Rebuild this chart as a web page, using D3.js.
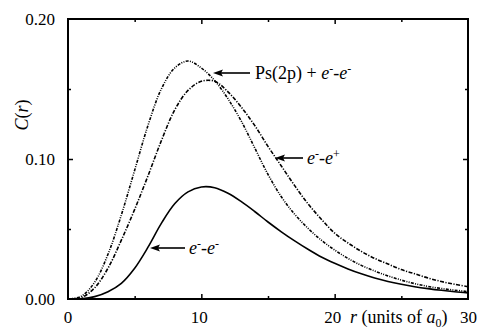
<!DOCTYPE html>
<html lang="en">
<head>
<meta charset="UTF-8">
<title>C(r)</title>
<script src="https://cdn.jsdelivr.net/npm/d3@7"></script>
<style>
  body { margin: 0; background: #fff; }
</style>
</head>
<body>
<script>
// radius grid (units of a0)
const rValues = [0, 1, 2, 3, 4, 5, 6, 7, 8, 9, 10, 11, 12, 13, 14, 15, 16, 17, 18, 19, 20, 21, 22, 23, 24, 25, 26, 27, 28, 29, 30]
// e- - e- (solid)
const eeValues = [0, 0.0002, 0.0017, 0.0052, 0.0112, 0.022, 0.037, 0.054, 0.068, 0.0765, 0.080, 0.0795, 0.0755, 0.0695, 0.0625, 0.055, 0.048, 0.0415, 0.0355, 0.030, 0.0255, 0.0215, 0.018, 0.015, 0.0125, 0.0105, 0.0088, 0.0074, 0.0062, 0.0052, 0.0044]
// e- - e+ (dash-dot)
const epValues = [0, 0.001, 0.008, 0.022, 0.042, 0.064, 0.088, 0.113, 0.135, 0.149, 0.1555, 0.1555, 0.148, 0.137, 0.124, 0.109, 0.095, 0.081, 0.068, 0.057, 0.047, 0.040, 0.034, 0.029, 0.025, 0.021, 0.018, 0.015, 0.0125, 0.0105, 0.0088]
// Ps(2p) + e- - e- (dash-dot-dot)
const psValues = [0, 0.002, 0.012, 0.032, 0.060, 0.092, 0.124, 0.150, 0.165, 0.170, 0.165, 0.156, 0.143, 0.127, 0.108, 0.089, 0.073, 0.0605, 0.0505, 0.042, 0.035, 0.029, 0.024, 0.020, 0.0165, 0.0135, 0.011, 0.009, 0.0075, 0.0063, 0.0053]

const xTickLabels = [0, 10, 20]
const yTickLabels = [0, 0.10, 0.20]

const w = 480, h = 336
const pLeft = 68, pRight = 468, pTop = 19, pBottom = 299

const svg = d3.select("body").append("svg").attr("width", w).attr("height", h)
    .style("font-family", '"Liberation Serif", serif')

const x = d3.scaleLinear().domain([0, 30]).range([pLeft, pRight])
const y = d3.scaleLinear().domain([0, 0.20]).range([pBottom, pTop])

// ticks pointing inward on all four sides
const drawTicks = (axisFn, scale, vals, size, transform) => {
    svg.append("g").attr("transform", transform)
        .call(axisFn(scale).tickValues(vals).tickSize(size).tickFormat(""))
        .call(g => g.select(".domain").remove())
        .call(g => g.selectAll("line").attr("stroke", "#000").attr("stroke-width", 1.5))
}
drawTicks(d3.axisBottom, x, [10, 20], -5, `translate(0,${pBottom})`)
drawTicks(d3.axisBottom, x, [5, 15, 25], -3, `translate(0,${pBottom})`)
drawTicks(d3.axisTop, x, [10, 20], -5, `translate(0,${pTop})`)
drawTicks(d3.axisTop, x, [5, 15, 25], -3, `translate(0,${pTop})`)
drawTicks(d3.axisLeft, y, [0.10], -5, `translate(${pLeft},0)`)
drawTicks(d3.axisLeft, y, [0.05, 0.15], -3, `translate(${pLeft},0)`)
drawTicks(d3.axisRight, y, [0.10], -5, `translate(${pRight},0)`)
drawTicks(d3.axisRight, y, [0.05, 0.15], -3, `translate(${pRight},0)`)

// frame
svg.append("rect")
    .attr("x", pLeft).attr("y", pTop)
    .attr("width", pRight - pLeft).attr("height", pBottom - pTop)
    .attr("fill", "none").attr("stroke", "#000").attr("stroke-width", 2)

// tick labels
svg.selectAll(".ylab").data(yTickLabels).enter().append("text")
    .attr("x", pLeft - 13).attr("y", d => y(d) + 6)
    .attr("text-anchor", "end").attr("font-size", 17)
    .text(d => d.toFixed(2))

svg.selectAll(".xlab").data(xTickLabels).enter().append("text")
    .attr("x", d => x(d) - (d == 0 ? 0 : 2)).attr("y", 323)
    .attr("text-anchor", "middle").attr("font-size", 17)
    .text(d => d)

svg.append("text").attr("x", 477).attr("y", 323)
    .attr("text-anchor", "end").attr("font-size", 17).text("30")

// x axis title
const xt = svg.append("text").attr("x", 350).attr("y", 323).attr("font-size", 18)
xt.append("tspan").attr("font-style", "italic").text("r")
xt.append("tspan").text(" (units of ")
xt.append("tspan").attr("font-style", "italic").text("a")
xt.append("tspan").attr("font-size", 12).attr("dy", 4).text("0")
xt.append("tspan").attr("dy", -4).text(")")

// y axis title
const yt = svg.append("text").attr("transform", "translate(28,115) rotate(-90)")
    .attr("text-anchor", "middle").attr("font-size", 18)
yt.append("tspan").attr("font-style", "italic").text("C")
yt.append("tspan").text("(")
yt.append("tspan").attr("font-style", "italic").text("r")
yt.append("tspan").text(")")

// curves
const series = [
    {vals: eeValues, dash: null},
    {vals: epValues, dash: "4,1.5,1.2,1.5"},
    {vals: psValues, dash: "3,1.3,1,1.3,1,1.3"}
]
const line = d3.line().x((d, i) => x(rValues[i])).y(d => y(d)).curve(d3.curveCatmullRom.alpha(0.5))
svg.selectAll(".curve").data(series).enter().append("path")
    .attr("d", d => line(d.vals))
    .attr("fill", "none").attr("stroke", "#000").attr("stroke-width", 1.6)
    .attr("stroke-dasharray", d => d.dash)

// arrows (pointing left) + labels
const arrow = (tip, tail, yy) => {
    svg.append("line")
        .attr("x1", tip + 6).attr("y1", yy).attr("x2", tail).attr("y2", yy)
        .attr("stroke", "#000").attr("stroke-width", 1.6)
    svg.append("path")
        .attr("d", `M${tip},${yy} L${tip + 10},${yy - 3.5} L${tip + 8},${yy} L${tip + 10},${yy + 3.5} Z`)
        .attr("fill", "#000")
}

const sup = (t, s) => t.append("tspan").attr("font-size", 12).attr("dy", -6).text(s)
const down = (t, s) => t.append("tspan").attr("dy", 6).text(s)

arrow(213, 250, 73)
const l1 = svg.append("text").attr("x", 255).attr("y", 79).attr("font-size", 18)
l1.append("tspan").text("Ps(2p) + ")
l1.append("tspan").attr("font-style", "italic").text("e")
sup(l1, "-")
down(l1, "-")
l1.append("tspan").attr("font-style", "italic").text("e")
sup(l1, "-")

arrow(275, 303, 158)
const l2 = svg.append("text").attr("x", 307).attr("y", 164).attr("font-size", 18)
l2.append("tspan").attr("font-style", "italic").text("e")
sup(l2, "-")
down(l2, "-")
l2.append("tspan").attr("font-style", "italic").text("e")
sup(l2, "+")

arrow(150, 185, 248)
const l3 = svg.append("text").attr("x", 189).attr("y", 254).attr("font-size", 18)
l3.append("tspan").attr("font-style", "italic").text("e")
sup(l3, "-")
down(l3, "-")
l3.append("tspan").attr("font-style", "italic").text("e")
sup(l3, "-")
</script>
</body>
</html>
